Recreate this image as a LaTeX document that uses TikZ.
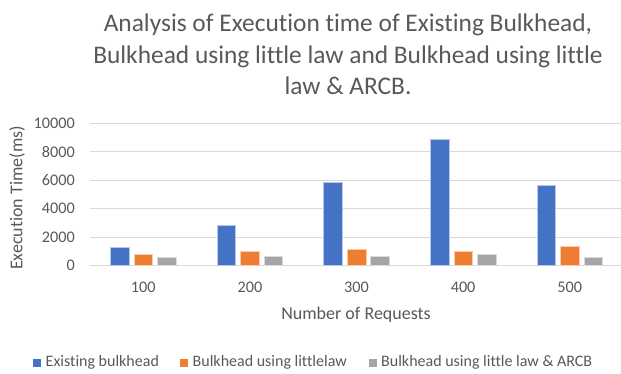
\documentclass[tikz,border=0pt]{standalone}
\usepackage{fontspec}
\setmainfont{Carlito}[Ligatures={NoCommon,NoRare}, RawFeature={-liga;-dlig;-calt}]
\definecolor{txt}{HTML}{595959}
\definecolor{grid}{HTML}{D9D9D9}
\definecolor{cblue}{HTML}{4472C4}
\definecolor{corange}{HTML}{ED7D31}
\definecolor{cgray}{HTML}{A5A5A5}
\tikzset{
  ttl/.style={text=txt, font=\fontsize{25.4}{31.5}\selectfont, align=center, inner sep=0pt},
  ticklbl/.style={text=txt, font=\fontsize{16.2}{18}\selectfont, inner sep=0pt},
  axlbl/.style={text=txt, font=\fontsize{18}{21}\selectfont, inner sep=0pt},
  leglbl/.style={text=txt, font=\fontsize{16}{18}\selectfont, inner sep=0pt, anchor=west},
  gridline/.style={draw=grid, line width=1pt},
  barb/.style={fill=cblue, draw=cblue!40, line width=0.6pt},
  baro/.style={fill=corange, draw=corange!40, line width=0.6pt},
  barg/.style={fill=cgray, draw=cgray!40, line width=0.6pt},
  legsq/.style={minimum size=8pt, inner sep=0pt},
}
\begin{document}
\begin{tikzpicture}[x=1pt,y=-1pt]
\useasboundingbox (0,0) rectangle (621,373);
\fill[white] (0,0) rectangle (621,373);
% title
\node[ttl] (title) at (348,54.5) {Analysis of Execution time of Existing Bulkhead,\\Bulkhead using little law and Bulkhead using little\\law \& ARCB.};
% grid and ticks
\foreach \v/\lab in {0/0,2000/2000,4000/4000,6000/6000,8000/8000,10000/10000} {
  \pgfmathsetmacro{\yy}{265.7-\v*0.01424}
  \draw[gridline] (90,\yy) -- (621,\yy);
  \node[ticklbl, anchor=east] (t\v) at (75,\yy) {\lab};
}
% bars
\foreach \i/\b/\o/\g/\lab in {0/1264/800/562/100, 1/2809/1032/660/200, 2/5857/1173/660/300, 3/8876/1032/800/400, 4/5667/1334/562/500} {
  \pgfmathsetmacro{\c}{143.3+106.6*\i}
  \draw[barb] (\c-23.6-9.3,265.7) rectangle (\c-23.6+9.3,265.7-\b*0.01424);
  \draw[baro] (\c-9.3,265.7) rectangle (\c+9.3,265.7-\o*0.01424);
  \draw[barg] (\c+23.5-9.3,265.7) rectangle (\c+23.5+9.3,265.7-\g*0.01424);
  \node[ticklbl] (x\lab) at (\c,287.5) {\lab};
}
% axis titles
\node[axlbl] (xtitle) at (356,314.5) {Number of Requests};
\node[axlbl, rotate=90] (ytitle) at (17,198) {Execution Time(ms)};
% legend
\node[legsq, fill=cblue] (lb) at (37,362.5) {};
\node[leglbl] (lbt) at (45.5,362.8) {Existing bulkhead};
\node[legsq, fill=corange] (lo) at (184,362.5) {};
\node[leglbl] (lot) at (192.5,362.8) {Bulkhead using littlelaw};
\node[legsq, fill=cgray] (lg) at (372.5,362.5) {};
\node[leglbl] (lgt) at (381,362.8) {Bulkhead using little law \& ARCB};
\end{tikzpicture}
\end{document}
